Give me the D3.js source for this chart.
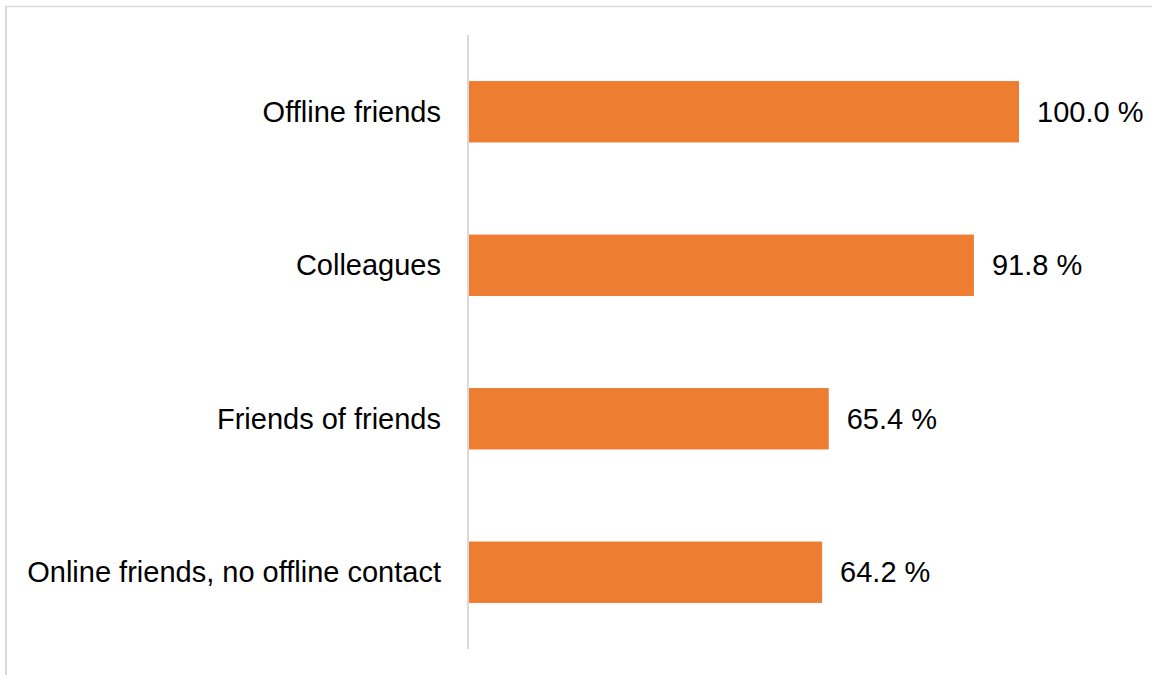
<!DOCTYPE html>
<html>
<head>
<meta charset="utf-8">
<script src="https://cdn.jsdelivr.net/npm/d3@7"></script>
<style>
  body { margin: 0; background: #fff; }
  svg { display: block; font-family: "Liberation Sans", Arial, sans-serif; }
</style>
</head>
<body>
<div id="chart"></div>
<script>
// shares of contacts, in percent
const categories = ["Offline friends", "Colleagues", "Friends of friends", "Online friends, no offline contact"];
const values = [100.0, 91.8, 65.4, 64.2];

const width = 1153, height = 675;
const axisX = 468, plotTop = 35, plotBottom = 649;

const svg = d3.select("#chart").append("svg")
    .attr("width", width)
    .attr("height", height);

// outer frame (cut off at the right and bottom)
svg.append("line")
    .attr("x1", 5).attr("x2", 1152)
    .attr("y1", 6.5).attr("y2", 6.5)
    .attr("stroke", "#d9d9d9").attr("stroke-width", 1.5);
svg.append("line")
    .attr("x1", 6).attr("x2", 6)
    .attr("y1", 6).attr("y2", height)
    .attr("stroke", "#d9d9d9").attr("stroke-width", 2);

const x = d3.scaleLinear()
    .domain([0, 100])
    .range([axisX + 1, 1019]);

const y = d3.scaleBand()
    .domain(categories)
    .range([plotTop, plotBottom])
    .paddingInner(0.6)
    .paddingOuter(0.3);

// bars
svg.selectAll(".bar")
    .data(values)
    .enter().append("rect")
    .attr("class", "bar")
    .attr("x", x(0))
    .attr("y", (d, i) => y(categories[i]))
    .attr("width", d => x(d) - x(0))
    .attr("height", y.bandwidth())
    .attr("fill", "#ed7d31");

// vertical axis line
svg.append("line")
    .attr("x1", axisX).attr("x2", axisX)
    .attr("y1", plotTop).attr("y2", plotBottom)
    .attr("stroke", "#d9d9d9").attr("stroke-width", 2);

// category labels
svg.selectAll(".cat")
    .data(categories)
    .enter().append("text")
    .attr("class", "cat")
    .attr("x", axisX - 27)
    .attr("y", d => y(d) + y.bandwidth() / 2)
    .attr("dy", "0.35em")
    .attr("text-anchor", "end")
    .attr("font-size", 29)
    .attr("fill", "#000")
    .text(d => d);

// value labels
svg.selectAll(".val")
    .data(values)
    .enter().append("text")
    .attr("class", "val")
    .attr("x", d => x(d) + 18)
    .attr("y", (d, i) => y(categories[i]) + y.bandwidth() / 2)
    .attr("dy", "0.35em")
    .attr("font-size", 29)
    .attr("fill", "#000")
    .text(d => d.toFixed(1) + " %");
</script>
</body>
</html>
